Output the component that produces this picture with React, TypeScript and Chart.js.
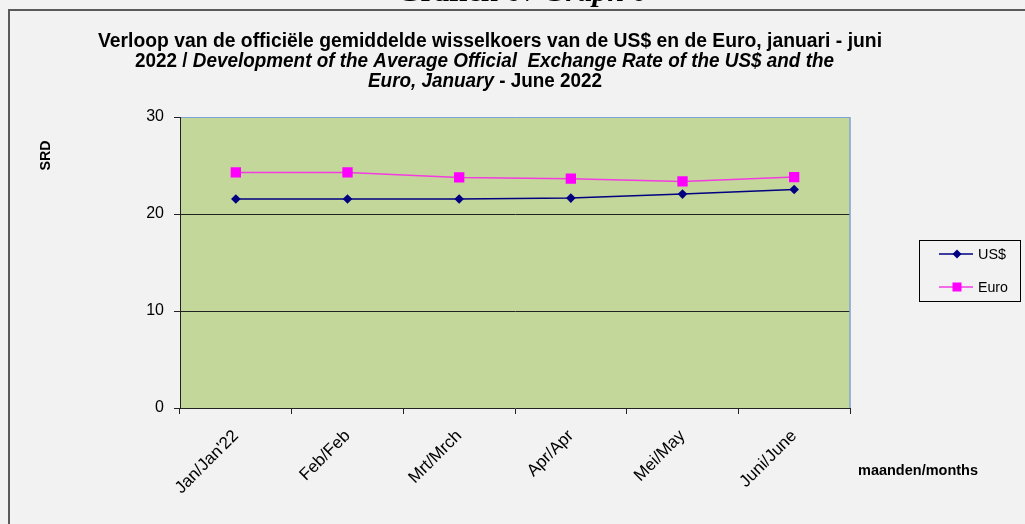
import React, { useEffect, useRef } from 'react';
import { Chart, registerables } from 'chart.js';

Chart.register(...registerables);

const months = ["Jan/Jan'22", 'Feb/Feb', 'Mrt/Mrch', 'Apr/Apr', 'Mei/May', 'Juni/June'];
const usdValues = [21.54, 21.54, 21.54, 21.64, 22.05, 22.53];
const euroValues = [24.29, 24.29, 23.77, 23.64, 23.36, 23.81];
const seriesNames = ['US$', 'Euro'];
const yMin = 0;
const yMax = 30;
const yStep = 10;

const FONT = '"Liberation Sans", Arial, sans-serif';
const SERIF = '"Liberation Serif", "Times New Roman", serif';

type Seg = { text: string; font: string };

// draws text segments centred on cx; when targetWidth is given, the run is scaled horizontally to it
function drawSegments(ctx: CanvasRenderingContext2D, segs: Seg[], cx: number, y: number, targetWidth?: number) {
  let total = 0;
  const widths = segs.map((s) => {
    ctx.font = s.font;
    const w = ctx.measureText(s.text).width;
    total += w;
    return w;
  });
  const sx = targetWidth ? targetWidth / total : 1;
  ctx.save();
  ctx.translate(cx - (total * sx) / 2, y);
  ctx.scale(sx, 1);
  ctx.textAlign = 'left';
  ctx.textBaseline = 'alphabetic';
  let x = 0;
  segs.forEach((s, i) => {
    ctx.font = s.font;
    ctx.fillText(s.text, x, 0);
    x += widths[i];
  });
  ctx.restore();
}

const decorPlugin = {
  id: 'decor',
  beforeDraw(chart: any) {
    const { ctx, chartArea } = chart;
    ctx.save();
    ctx.fillStyle = '#f2f2f2';
    ctx.fillRect(0, 0, chart.width, chart.height);
    ctx.fillStyle = '#c4d79b';
    ctx.fillRect(chartArea.left, chartArea.top, chartArea.right - chartArea.left, chartArea.bottom - chartArea.top);
    ctx.restore();
  },
  afterDraw(chart: any) {
    const { ctx, chartArea } = chart;
    ctx.save();
    // right border of plot area
    ctx.strokeStyle = '#7ba3d6';
    ctx.lineWidth = 1.5;
    ctx.beginPath();
    ctx.moveTo(chartArea.right, chartArea.top);
    ctx.lineTo(chartArea.right, chartArea.bottom);
    ctx.stroke();

    // outer frame
    ctx.strokeStyle = '#5a5a5a';
    ctx.lineWidth = 2;
    ctx.beginPath();
    ctx.moveTo(9, chart.height + 5);
    ctx.lineTo(9, 10);
    ctx.lineTo(chart.width + 5, 10);
    ctx.stroke();

    ctx.fillStyle = '#000';
    // page heading (cut off at the top)
    drawSegments(ctx, [
      { text: 'Grafiek 6 ', font: `bold 30px ${SERIF}` },
      { text: '/ Graph 6', font: `italic bold 30px ${SERIF}` },
    ], 522, 1, 250);

    // chart title
    const b = `bold 20px ${FONT}`;
    const bi = `italic bold 20px ${FONT}`;
    drawSegments(ctx, [
      { text: 'Verloop van de officiële gemiddelde wisselkoers van de US$ en de Euro, januari - juni', font: b },
    ], 490, 47, 784);
    drawSegments(ctx, [
      { text: '2022 / ', font: b },
      { text: 'Development of the Average Official  Exchange Rate of the US$ and the', font: bi },
    ], 484.5, 67, 699);
    drawSegments(ctx, [
      { text: 'Euro, January', font: bi },
      { text: ' - June 2022', font: b },
    ], 485, 87, 234);

    // y axis title
    ctx.save();
    ctx.translate(50, 155.5);
    ctx.rotate(-Math.PI / 2);
    drawSegments(ctx, [{ text: 'SRD', font: `bold 15px ${FONT}` }], 0, 0, 30);
    ctx.restore();

    // x axis title
    drawSegments(ctx, [{ text: 'maanden/months', font: `bold 15px ${FONT}` }], 918, 475, 120);

    // legend
    const lx = 919, ly = 240, lw = 101, lh = 61;
    ctx.fillStyle = '#f2f2f2';
    ctx.fillRect(lx, ly, lw, lh);
    ctx.strokeStyle = '#000';
    ctx.lineWidth = 1;
    ctx.strokeRect(lx + 0.5, ly + 0.5, lw, lh);
    chart.data.datasets.forEach((ds: any, i: number) => {
      const y = ly + 14 + i * 33;
      ctx.strokeStyle = ds.borderColor;
      ctx.lineWidth = 1.5;
      ctx.beginPath();
      ctx.moveTo(lx + 20, y);
      ctx.lineTo(lx + 54, y);
      ctx.stroke();
      ctx.fillStyle = ds.pointBackgroundColor;
      const mx = lx + 38;
      if (ds.pointStyle === 'rectRot') {
        const r = 4.5;
        ctx.beginPath();
        ctx.moveTo(mx, y - r);
        ctx.lineTo(mx + r, y);
        ctx.lineTo(mx, y + r);
        ctx.lineTo(mx - r, y);
        ctx.closePath();
        ctx.fill();
      } else {
        ctx.fillRect(mx - 4.5, y - 4.5, 9, 9);
      }
      ctx.fillStyle = '#000';
      drawSegments(ctx, [{ text: ds.label, font: `14px ${FONT}` }], lx + 59 + (i === 0 ? 14 : 15), y + 5, i === 0 ? 28 : 30);
    });
    ctx.restore();
  },
};

export default function App() {
  const ref = useRef<HTMLCanvasElement | null>(null);
  useEffect(() => {
    if (!ref.current) return;
    const chart = new Chart(ref.current, {
      type: 'line',
      data: {
        labels: months,
        datasets: [
          {
            label: seriesNames[0],
            data: usdValues,
            borderColor: '#000080',
            backgroundColor: '#000080',
            pointBackgroundColor: '#000080',
            pointBorderWidth: 0,
            borderWidth: 1.5,
            pointStyle: 'rectRot',
            pointRadius: 4.8,
          },
          {
            label: seriesNames[1],
            data: euroValues,
            borderColor: '#f23ce0',
            backgroundColor: '#ff00ff',
            pointBackgroundColor: '#ff00ff',
            pointBorderWidth: 0,
            borderWidth: 1.5,
            pointStyle: 'rect',
            pointRadius: 7.3,
          },
        ],
      } as any,
      options: {
        responsive: false,
        animation: false,
        events: [],
        layout: { padding: { top: 117, right: 175, left: 0, bottom: 0 } },
        plugins: {
          legend: { display: false },
          title: { display: false },
          tooltip: { enabled: false },
        },
        scales: {
          x: {
            offset: true,
            grid: { offset: true, drawOnChartArea: false, color: '#222', tickLength: 6 },
            border: { color: '#222', width: 1 },
            ticks: {
              maxRotation: 45,
              minRotation: 45,
              padding: 12,
              color: '#000',
              font: { family: FONT, size: 17 },
            },
            afterFit: (s: any) => {
              s.height = 116;
            },
          },
          y: {
            min: yMin,
            max: yMax,
            ticks: {
              stepSize: yStep,
              padding: 10,
              color: '#000',
              font: { family: FONT, size: 16 },
            },
            grid: {
              color: (c: any) =>
                c.tick && c.tick.value === yMax ? '#7ba3d6' : c.tick && c.tick.value > yMin ? '#222' : 'rgba(0,0,0,0)',
              tickColor: '#222',
              tickLength: 6,
              lineWidth: 1,
            },
            border: { color: '#222', width: 1 },
            afterFit: (s: any) => {
              s.width = 180;
            },
          },
        },
      } as any,
      plugins: [decorPlugin],
    });
    return () => chart.destroy();
  }, []);
  return (
    <div style={{ position: 'fixed', left: 0, top: 0, width: 1025, height: 524 }}>
      <canvas ref={ref} width={1025} height={524} style={{ display: 'block' }} />
    </div>
  );
}
